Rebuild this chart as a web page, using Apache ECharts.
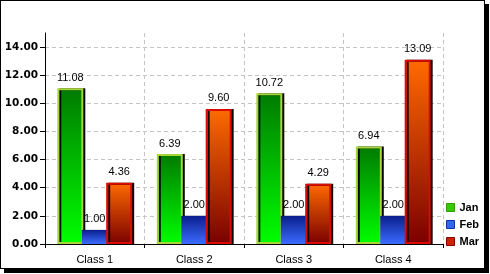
<!DOCTYPE html>
<html>
<head>
<meta charset="utf-8">
<script src="https://cdn.jsdelivr.net/npm/echarts@6/dist/echarts.min.js"></script>
<style>
html,body{margin:0;padding:0;background:#fff;}
#wrap{position:relative;width:490px;height:274px;overflow:hidden;}
#chart{position:absolute;left:0;top:0;width:490px;height:274px;}
#frame{position:absolute;left:0;top:0;width:483px;height:267px;border:1px solid #000;box-shadow:4px 4px 0 #000;pointer-events:none;}
</style>
</head>
<body>
<div id="wrap"><div id="chart"></div><div id="frame"></div></div>
<script>
var categories = ['Class 1', 'Class 2', 'Class 3', 'Class 4'];
var janValues = [11.08, 6.39, 10.72, 6.94];
var febValues = [1.00, 2.00, 2.00, 2.00];
var marValues = [4.36, 9.60, 4.29, 13.09];
var yTicks = [0, 2, 4, 6, 8, 10, 12, 14];
var seriesNames = ['Jan', 'Feb', 'Mar'];

function grad(top, bottom) {
  return new echarts.graphic.LinearGradient(0, 0, 0, 1, [
    {offset: 0, color: top}, {offset: 1, color: bottom}
  ]);
}
var labelStyle = {
  show: true, position: 'top', distance: 5,
  fontFamily: 'Liberation Sans', fontSize: 11, color: '#000',
  formatter: function (p) { return p.value.toFixed(2); }
};
var shadow = {shadowColor: 'rgba(0,0,0,0.95)', shadowOffsetX: 2, shadowOffsetY: 0, shadowBlur: 0};

var chart = echarts.init(document.getElementById('chart'), null, {renderer: 'canvas'});
chart.setOption({
  backgroundColor: '#fff',
  animation: false,
  grid: {left: 45, right: 47, top: 33, bottom: 30, containLabel: false},
  legend: {
    orient: 'vertical', left: 446, top: 202, padding: 0,
    itemWidth: 8, itemHeight: 8, itemGap: 6,
    icon: 'rect',
    textStyle: {fontFamily: 'Liberation Sans', fontWeight: 'bold', fontSize: 11, color: '#000', lineHeight: 11},
    data: [
      {name: 'Jan', itemStyle: {color: '#33cc00', borderColor: '#339900', borderWidth: 1, shadowBlur: 0, shadowOffsetX: 0}},
      {name: 'Feb', itemStyle: {color: '#3366ee', borderColor: '#1133aa', borderWidth: 1, shadowBlur: 0, shadowOffsetX: 0}},
      {name: 'Mar', itemStyle: {color: '#cc2200', borderColor: '#880000', borderWidth: 1, shadowBlur: 0, shadowOffsetX: 0}}
    ]
  },
  xAxis: {
    type: 'category', data: categories, boundaryGap: true,
    axisLine: {lineStyle: {color: '#000', width: 1}},
    axisTick: {show: true, length: 4, lineStyle: {color: '#000'}},
    axisLabel: {fontFamily: 'Liberation Sans', fontSize: 11, color: '#000', margin: 10},
    splitLine: {show: true, lineStyle: {color: '#c4c4c4', type: [4, 3]}}
  },
  yAxis: {
    type: 'value', min: 0, max: 15, interval: 2,
    axisLine: {show: true, lineStyle: {color: '#000', width: 1}},
    axisTick: {show: true, length: 5, lineStyle: {color: '#000'}, customValues: yTicks},
    axisLabel: {
      customValues: yTicks,
      fontFamily: 'DejaVu Sans', fontWeight: 'bold', fontSize: 10.5, color: '#000', margin: 7,
      formatter: function (v) { return v.toFixed(2); }
    },
    splitLine: {show: true, lineStyle: {
      color: ['#c4c4c4','#c4c4c4','#c4c4c4','#c4c4c4','#c4c4c4','#c4c4c4','#c4c4c4','#c4c4c4','rgba(0,0,0,0)'],
      type: [4, 3]}}
  },
  series: [
    {
      name: seriesNames[0], type: 'bar', data: janValues,
      barWidth: 26, barGap: '-6%', barCategoryGap: '22%',
      itemStyle: Object.assign({color: grad('#007a00', '#00ff00'), borderColor: '#a6d63a', borderWidth: 2}, shadow),
      label: labelStyle
    },
    {
      name: seriesNames[1], type: 'bar', data: febValues,
      barWidth: 26, barGap: '-6%',
      itemStyle: Object.assign({color: grad('#0a1e8c', '#3a6cff'), borderColor: '#2a4ad8', borderWidth: 0}, shadow),
      label: labelStyle
    },
    {
      name: seriesNames[2], type: 'bar', data: marValues,
      barWidth: 26, barGap: '-6%',
      itemStyle: Object.assign({color: grad('#ff6a00', '#7a0000'), borderColor: '#dd0a00', borderWidth: 2}, shadow),
      label: labelStyle
    }
  ]
});
</script>
</body>
</html>
